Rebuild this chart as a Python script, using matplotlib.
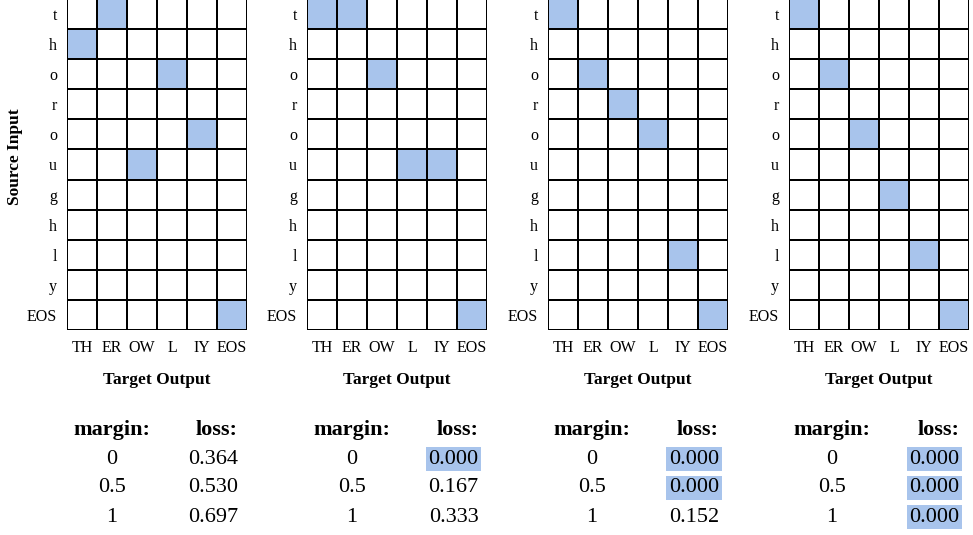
import numpy as np
import matplotlib.pyplot as plt
from matplotlib.colors import ListedColormap

plt.rcParams['font.family'] = ['Liberation Serif', 'DejaVu Serif']

source_chars = ['t', 'h', 'o', 'r', 'o', 'u', 'g', 'h', 'l', 'y', 'EOS']
target_phones = ['TH', 'ER', 'OW', 'L', 'IY', 'EOS']

# source row aligned to each target column, one list per panel
align_1 = [1, 0, 5, 2, 4, 10]
align_2 = [0, 0, 2, 5, 5, 10]
align_3 = [0, 2, 3, 4, 8, 10]
align_4 = [0, 2, 4, 6, 8, 10]
aligns = [align_1, align_2, align_3, align_4]

margins = ['0', '0.5', '1']
loss_1 = [0.364, 0.530, 0.697]
loss_2 = [0.000, 0.167, 0.333]
loss_3 = [0.000, 0.000, 0.152]
loss_4 = [0.000, 0.000, 0.000]
losses = [loss_1, loss_2, loss_3, loss_4]

blue = '#a8c4ec'
W, H = 973, 535

fig = plt.figure(figsize=(9.73, 5.35), dpi=100)

lefts = [67, 307, 548, 789]
for i in range(4):
    ax = fig.add_axes([lefts[i] / W, 1 - 330 / H, 180 / W, 331 / H])
    grid = np.zeros((len(source_chars), len(target_phones)))
    for c, r in enumerate(aligns[i]):
        grid[r, c] = 1
    ax.pcolormesh(grid, cmap=ListedColormap(['white', blue]), vmin=0, vmax=1,
                  edgecolors='black', linewidth=1.2)
    ax.set_xlim(0, len(target_phones))
    ax.set_ylim(len(source_chars), 0)
    ax.set_xticks(np.arange(len(target_phones)) + 0.5, target_phones)
    ax.set_yticks(np.arange(len(source_chars)) + 0.5, source_chars)
    ax.tick_params(length=0, labelsize=11.5)
    ax.tick_params(axis='x', pad=7.5)
    ax.tick_params(axis='y', pad=7)
    for s in ax.spines.values():
        s.set_visible(False)
    ax.set_xlabel('Target Output', fontweight='bold', fontsize=12.5, labelpad=11)

    # margin / loss table under the panel
    mx = (112 + 240 * i) / W
    lx = (238 + 240.5 * i) / W
    fig.text(mx, 1 - 430 / H, 'margin:', ha='center', va='center',
             fontsize=16, fontweight='bold')
    fig.text(lx, 1 - 430 / H, 'loss:', ha='right', va='center',
             fontsize=16, fontweight='bold')
    for j, (m, v) in enumerate(zip(margins, losses[i])):
        y = 1 - (459 + 29 * j) / H
        fig.text(mx, y, m, ha='center', va='center', fontsize=16)
        box = None
        if v == 0:
            box = dict(boxstyle='square,pad=0.12', facecolor=blue, edgecolor='none')
        fig.text(lx, y, f'{v:.3f}', ha='right', va='center', fontsize=16, bbox=box)

fig.text(15.5 / W, 1 - 157 / H, 'Source Input', rotation=90, ha='center',
         va='center', fontsize=12.5, fontweight='bold')

fig.savefig('out.png', dpi=100)
